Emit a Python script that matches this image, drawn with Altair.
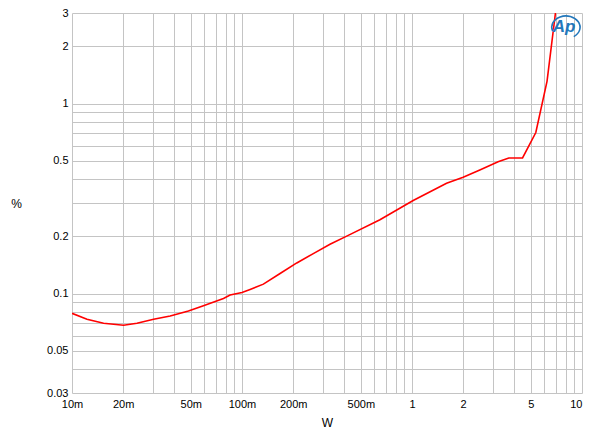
import altair as alt
import pandas as pd

# Data (power in W, THD+N in %)
power_w = [0.01, 0.01225, 0.01534, 0.0201, 0.0241, 0.0302, 0.0378, 0.0484, 0.0593, 0.0778,
           0.0851, 0.1, 0.1116, 0.1336, 0.1675, 0.210, 0.2627, 0.3294, 0.4217, 0.6477,
           1.016, 1.597, 2.0, 2.506, 3.21, 3.71, 4.47, 5.35, 6.23, 6.98, 7.2]
thd_pct = [0.0788, 0.0733, 0.0698, 0.0682, 0.0698, 0.0733, 0.0763, 0.081, 0.0863, 0.0944,
           0.0983, 0.1015, 0.1053, 0.1122, 0.1277, 0.1451, 0.1625, 0.1818, 0.2027, 0.245,
           0.309, 0.381, 0.41, 0.448, 0.495, 0.518, 0.518, 0.705, 1.315, 3.0, 3.6]

x_grid = [round(m * 10 ** e, 6) for e in (-2, -1, 0) for m in range(1, 10)] + [10]
x_label_vals = [0.01, 0.02, 0.05, 0.1, 0.2, 0.5, 1, 2, 5, 10]
x_label_text = ["10m", "20m", "50m", "100m", "200m", "500m", "1", "2", "5", "10"]

y_grid = [round(m * 10 ** e, 6) for e in (-2, -1, 0) for m in range(1, 10)]
y_grid = [v for v in y_grid if 0.03 <= v <= 3]
y_label_vals = [0.03, 0.05, 0.1, 0.2, 0.5, 1, 2, 3]
y_label_text = ["0.03", "0.05", "0.1", "0.2", "0.5", "1", "2", "3"]


def label_expr(vals, texts):
    expr = "''"
    for v, t in zip(reversed(vals), reversed(texts)):
        expr = f"abs(datum.value - {v}) < {v} * 1e-6 ? '{t}' : ({expr})"
    return expr


df = pd.DataFrame({"w": power_w, "pct": thd_pct})

FONT = "Liberation Sans"
GRID = "#c4c4c4"
W, H = 510, 380

x_enc = alt.X(
    "w:Q",
    scale=alt.Scale(type="log", domain=[0.01, 10], nice=False),
    axis=alt.Axis(
        values=x_grid,
        labelExpr=label_expr(x_label_vals, x_label_text),
        title="W",
        titleFont=FONT, titleFontSize=12, titleFontWeight="normal", titleColor="#000",
        titleX=W / 2, titleY=29, titleBaseline="middle",
        labelFont=FONT, labelFontSize=11, labelColor="#000", labelPadding=5,
        labelOverlap=False, labelFlush=False,
        labelAlign={"condition": {"test": "datum.value >= 9.99", "value": "right"}, "value": "center"},
        domain=False, ticks=False,
        grid=True, gridColor=GRID, gridWidth=1,
    ),
)

y_enc = alt.Y(
    "pct:Q",
    scale=alt.Scale(type="log", domain=[0.03, 3], nice=False),
    axis=alt.Axis(
        values=y_grid,
        labelExpr=label_expr(y_label_vals, y_label_text),
        title="%",
        titleFont=FONT, titleFontSize=12, titleFontWeight="normal", titleColor="#000",
        titleAngle=0, titleX=-56, titleY=H / 2, titleAlign="center", titleBaseline="middle",
        labelFont=FONT, labelFontSize=11, labelColor="#000", labelPadding=4,
        labelOverlap=False, labelFlush=False,
        domain=False, ticks=False,
        grid=True, gridColor=GRID, gridWidth=1,
    ),
)

line = alt.Chart(df).mark_line(color="#ff0000", strokeWidth=1.6, clip=True).encode(
    x=x_enc, y=y_enc
)

logo_text = alt.Chart(pd.DataFrame({"t": ["Ap"]})).mark_text(
    font=FONT, fontSize=17, fontStyle="italic", fontWeight="bold", color="#2277bb",
    align="center", baseline="middle"
).encode(x=alt.value(492), y=alt.value(14), text="t:N")

logo_ring = alt.Chart(pd.DataFrame({"t": ["Ap"]})).mark_point(
    shape="M -0.95 0.35 A 1 0.8 0 1 1 0.55 0.75",
    size=800, filled=False, stroke="#2277bb", strokeWidth=1.6, opacity=1
).encode(x=alt.value(494), y=alt.value(13))

chart = (
    alt.layer(line, logo_ring, logo_text)
    .properties(
        width=W, height=H,
        autosize=alt.AutoSizeParams(type="none"),
        padding={"left": 64, "top": 5, "right": 10, "bottom": 36},
        background="white",
    )
    .configure_view(strokeWidth=0)
)

chart.save("out.html", embed_options={"renderer": "svg", "actions": False})
